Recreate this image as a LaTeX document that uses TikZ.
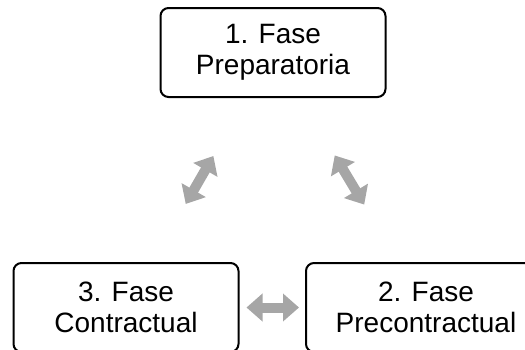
\documentclass[tikz,border=0pt]{standalone}
\usepackage{fontspec}
\setmainfont{Liberation Sans}
\usetikzlibrary{arrows.meta}

\tikzset{
  phase/.style={draw, line width=2pt, rounded corners=8pt, align=center,
    minimum width=225pt, minimum height=89pt, inner sep=0pt,
    font=\fontsize{28}{31}\selectfont},
  cycle/.style={draw=gray!70, line width=10pt,
    {Triangle[width=27pt,length=16pt]}-{Triangle[width=27pt,length=16pt]}}
}

\begin{document}
\begin{tikzpicture}[x=1pt,y=-1pt]
  \useasboundingbox (0,0) rectangle (525,349);

  \node[phase] (prep) at (273,52.5) {1. Fase\\Preparatoria};
  \node[phase, minimum width=240pt] (precon) at (426,307.5) {2. Fase\\Precontractual};
  \node[phase] (contr) at (126,307.5) {3. Fase\\Contractual};

  \draw[cycle, shorten <=67pt, shorten >=67pt] (prep) -- (contr);
  \draw[cycle, shorten <=67pt, shorten >=67pt] (prep) -- (precon);
  \draw[cycle, shorten <=7pt, shorten >=6pt] (contr) -- (precon);
\end{tikzpicture}
\end{document}
